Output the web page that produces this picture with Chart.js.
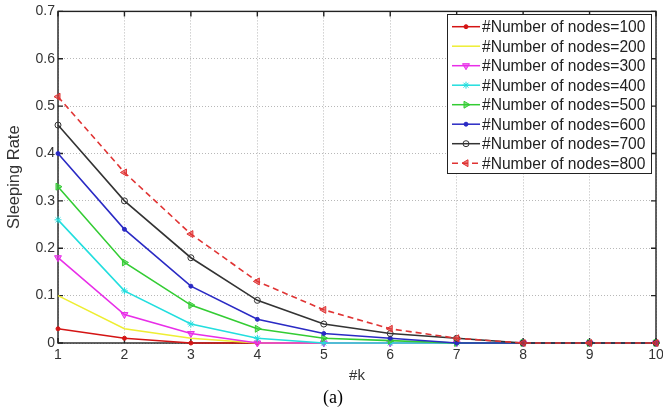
<!DOCTYPE html>
<html>
<head>
<meta charset="utf-8">
<script src="https://cdn.jsdelivr.net/npm/chart.js"></script>
<style>
  html, body { margin: 0; padding: 0; background: #fff; }
  #wrap { position: relative; width: 663px; height: 415px; }
  #caption { position: absolute; left: 323px; top: 387px; font: 18px "Liberation Serif", serif; color: #000; line-height: 20px; }
</style>
</head>
<body>
<div id="wrap">
  <canvas id="chart" width="663" height="415"></canvas>
  <div id="caption">(a)</div>
</div>
<script>
// values
const kValues = [1, 2, 3, 4, 5, 6, 7, 8, 9, 10];
const nodes100 = [0.03, 0.01, 0, 0, 0, 0, 0, 0, 0, 0];
const nodes200 = [0.10, 0.03, 0.01, 0, 0, 0, 0, 0, 0, 0];
const nodes300 = [0.18, 0.06, 0.02, 0, 0, 0, 0, 0, 0, 0];
const nodes400 = [0.26, 0.11, 0.04, 0.01, 0, 0, 0, 0, 0, 0];
const nodes500 = [0.33, 0.17, 0.08, 0.03, 0.01, 0.005, 0, 0, 0, 0];
const nodes600 = [0.40, 0.24, 0.12, 0.05, 0.02, 0.01, 0, 0, 0, 0];
const nodes700 = [0.46, 0.30, 0.18, 0.09, 0.04, 0.02, 0.01, 0, 0, 0];
const nodes800 = [0.52, 0.36, 0.23, 0.13, 0.07, 0.03, 0.01, 0, 0, 0];
const seriesLabels = ["#Number of nodes=100", "#Number of nodes=200", "#Number of nodes=300",
  "#Number of nodes=400", "#Number of nodes=500", "#Number of nodes=600",
  "#Number of nodes=700", "#Number of nodes=800"];
const seriesValues = [nodes100, nodes200, nodes300, nodes400, nodes500, nodes600, nodes700, nodes800];

// look of each series (matlab style markers)
const styles = [
  { color: "#d41414", fill: "#d41414", point: "circle", r: 2, rot: 0 },
  { color: "#eeee33", fill: "#eeee33", point: "circle", r: 0, rot: 0 },
  { color: "#e82ee8", fill: "rgba(232,46,232,0.6)", point: "triangle", r: 4, rot: 180 },
  { color: "#22dede", fill: "#22dede", point: "star", r: 3.5, rot: 0 },
  { color: "#33cc33", fill: "rgba(51,204,51,0.6)", point: "triangle", r: 4, rot: 90 },
  { color: "#2a2ac4", fill: "#2a2ac4", point: "circle", r: 2, rot: 0 },
  { color: "#333333", fill: "rgba(255,255,255,0)", point: "circle", r: 3, rot: 0 },
  { color: "#e03434", fill: "rgba(224,52,52,0.6)", point: "triangle", r: 4, rot: 270, dash: [6, 4] }
];

const datasets = seriesValues.map((vals, i) => ({
  label: seriesLabels[i],
  data: kValues.map((k, j) => ({ x: k, y: vals[j] })),
  borderColor: styles[i].color,
  backgroundColor: styles[i].fill,
  borderWidth: 1.6,
  borderDash: styles[i].dash || [],
  pointStyle: styles[i].point,
  pointRadius: styles[i].r,
  pointRotation: styles[i].rot,
  pointBackgroundColor: styles[i].fill,
  pointBorderColor: styles[i].color,
  pointBorderWidth: 1,
  tension: 0,
  clip: false,
  order: seriesValues.length - i
}));

// box round the plot with inward tick marks, like matlab
const frame = {
  id: "frame",
  beforeDatasetsDraw(chart) {
    const { ctx, chartArea: a, scales: { x, y } } = chart;
    ctx.save();
    ctx.strokeStyle = "#222";
    ctx.lineWidth = 1.4;
    ctx.strokeRect(a.left, a.top, a.right - a.left, a.bottom - a.top);
    ctx.beginPath();
    x.ticks.forEach(t => {
      const px = x.getPixelForValue(t.value);
      ctx.moveTo(px, a.bottom); ctx.lineTo(px, a.bottom - 5);
      ctx.moveTo(px, a.top); ctx.lineTo(px, a.top + 5);
    });
    y.ticks.forEach(t => {
      const py = y.getPixelForValue(t.value);
      ctx.moveTo(a.left, py); ctx.lineTo(a.left + 5, py);
      ctx.moveTo(a.right, py); ctx.lineTo(a.right - 5, py);
    });
    ctx.stroke();
    ctx.restore();
  },
  afterDraw(chart) {
    const ctx = chart.ctx;
    const bx = 447, by = 14, bw = 204, bh = 159;
    ctx.save();
    ctx.fillStyle = "#fff";
    ctx.fillRect(bx, by, bw, bh);
    ctx.strokeStyle = "#222";
    ctx.lineWidth = 1;
    ctx.strokeRect(bx + 0.5, by + 0.5, bw, bh);
    ctx.font = '15.6px "Liberation Sans", Arial, sans-serif';
    ctx.textBaseline = "middle";
    chart.data.datasets.forEach((ds, i) => {
      const yy = by + 12.7 + i * 19.5;
      ctx.strokeStyle = ds.borderColor;
      ctx.lineWidth = 1.5;
      ctx.setLineDash(ds.borderDash);
      ctx.beginPath();
      ctx.moveTo(452, yy); ctx.lineTo(480, yy);
      ctx.stroke();
      ctx.setLineDash([]);
      if (ds.pointRadius > 0) {
        ctx.fillStyle = ds.pointBackgroundColor;
        ctx.strokeStyle = ds.pointBorderColor;
        ctx.lineWidth = 1;
        Chart.helpers.drawPoint(ctx, {
          pointStyle: ds.pointStyle, radius: ds.pointRadius,
          rotation: ds.pointRotation, borderWidth: 1
        }, 466, yy);
      }
      ctx.fillStyle = "#222";
      ctx.fillText(ds.label, 482, yy + 1);
    });
    ctx.restore();
  }
};

const tickFont = { family: '"Liberation Sans", Arial, sans-serif', size: 14 };

new Chart(document.getElementById("chart"), {
  type: "line",
  data: { datasets: datasets },
  options: {
    responsive: false,
    animation: false,
    layout: { padding: { left: 0, right: 7, top: 10, bottom: 30 } },
    plugins: { legend: { display: false }, tooltip: { enabled: false } },
    scales: {
      x: {
        type: "linear",
        min: 1, max: 10,
        ticks: { stepSize: 1, color: "#333", font: tickFont, padding: 4 },
        grid: { color: "#b8b8b8", lineWidth: 1, drawTicks: false },
        border: { display: false, dash: [1, 2] },
        title: { display: true, text: "#k", color: "#333",
          font: { family: '"Liberation Sans", Arial, sans-serif', size: 15 }, padding: { top: 1, bottom: 0 } },
        afterFit(scale) { scale.height = 42; scale.paddingLeft = 0; scale.paddingRight = 0; }
      },
      y: {
        min: 0, max: 0.7,
        ticks: { stepSize: 0.1, color: "#333", font: tickFont, padding: 3,
          callback: v => String(+v.toFixed(1)) },
        grid: { color: "#b8b8b8", lineWidth: 1, drawTicks: false },
        border: { display: false, dash: [1, 2] },
        title: { display: true, text: "Sleeping Rate", color: "#333",
          font: { family: '"Liberation Sans", Arial, sans-serif', size: 16.5 }, padding: { top: 5, bottom: 0 } },
        afterFit(scale) { scale.width = 58; }
      }
    }
  },
  plugins: [frame]
});
</script>
</body>
</html>
